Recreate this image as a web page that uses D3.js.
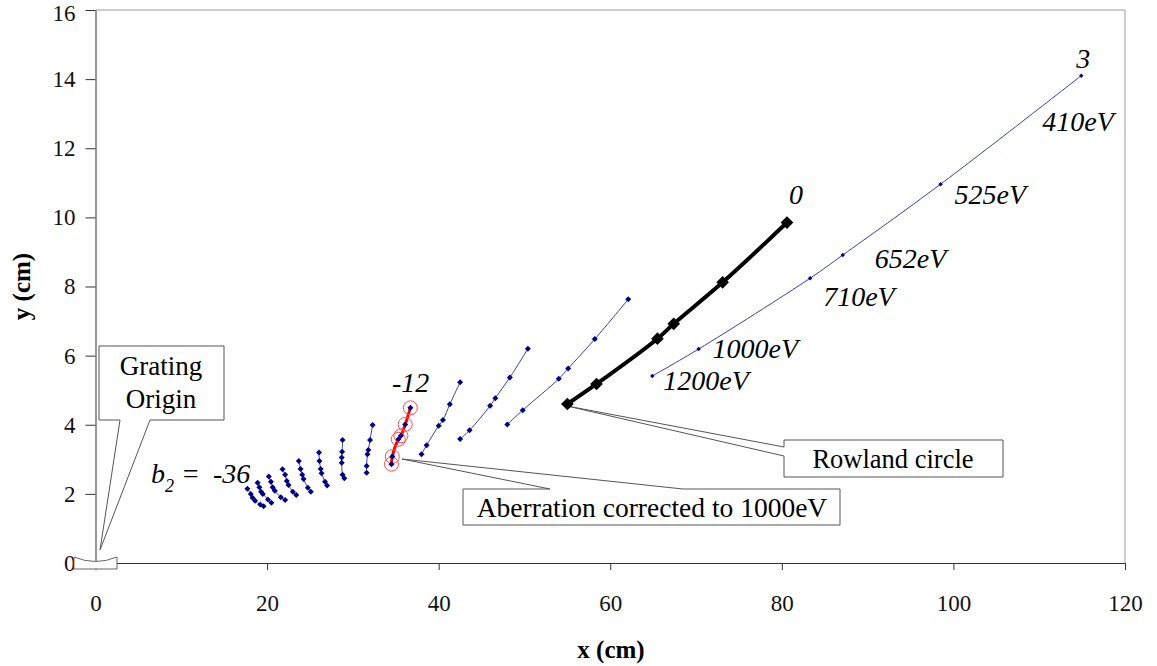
<!DOCTYPE html>
<html><head><meta charset="utf-8">
<script src="https://cdnjs.cloudflare.com/ajax/libs/d3/7.8.5/d3.min.js"></script>
<style>
body{margin:0;background:#fff;}
svg text{font-family:"Liberation Serif","Times New Roman","DejaVu Serif",serif !important;}
</style></head>
<body><svg id="c" width="1157" height="666"></svg>
<script>
// ---- data ----
const xTicks = [0, 20, 40, 60, 80, 100, 120];
const yTicks = [0, 2, 4, 6, 8, 10, 12, 14, 16];
const energies = ["410eV", "525eV", "652eV", "710eV", "1000eV", "1200eV"];
const b2Values = [3, 0, -3, -6, -9, -12, -15, -18, -21, -24, -27, -30, -33, -36];
const focusX = [
  [114.9, 98.5, 87.1, 83.3, 70.3, 64.9],
  [80.6, 73.1, 67.4, 65.5, 58.4, 55.0],
  [62.1, 58.2, 55.1, 54.0, 49.8, 48.0],
  [50.4, 48.3, 46.6, 46.0, 43.6, 42.5],
  [42.5, 41.3, 40.5, 40.0, 38.6, 38.0],
  [36.7, 36.1, 35.6, 35.3, 34.6, 34.5],
  [32.3, 32.0, 31.8, 31.7, 31.6, 31.6],
  [28.8, 28.75, 28.7, 28.7, 28.8, 29.0],
  [26.05, 26.1, 26.25, 26.35, 26.75, 27.0],
  [23.7, 23.9, 24.1, 24.25, 24.75, 25.1],
  [21.8, 22.1, 22.3, 22.5, 23.0, 23.4],
  [20.2, 20.45, 20.65, 20.9, 21.6, 22.1],
  [18.9, 19.1, 19.3, 19.5, 20.1, 20.5],
  [17.7, 18.1, 18.3, 18.6, 19.2, 19.6]
];
const focusY = [
  [14.10, 10.96, 8.91, 8.24, 6.19, 5.41],
  [9.85, 8.12, 6.92, 6.49, 5.18, 4.60],
  [7.63, 6.48, 5.63, 5.33, 4.42, 4.01],
  [6.20, 5.37, 4.77, 4.55, 3.84, 3.59],
  [5.23, 4.59, 4.14, 3.97, 3.41, 3.15],
  [4.49, 4.01, 3.68, 3.58, 3.08, 2.86],
  [3.99, 3.56, 3.27, 3.15, 2.81, 2.61],
  [3.56, 3.22, 3.05, 2.90, 2.55, 2.45],
  [3.20, 2.95, 2.72, 2.60, 2.35, 2.24],
  [2.95, 2.72, 2.55, 2.43, 2.18, 2.06],
  [2.71, 2.55, 2.37, 2.26, 2.06, 1.97],
  [2.50, 2.35, 2.19, 2.09, 1.90, 1.82],
  [2.32, 2.19, 2.06, 2.00, 1.84, 1.74],
  [2.15, 2.00, 1.89, 1.80, 1.69, 1.64]
];
const rowlandB2 = 0;
const correctedB2 = -12;

// ---- chart ----
const svg = d3.select("#c");
const x = d3.scaleLinear().domain([0, 120]).range([95.5, 1125]);
const y = d3.scaleLinear().domain([0, 16]).range([563, 10]);

// plot border (top/right)
svg.append("path").attr("d", `M${x(0)},${y(16)}H${x(120)}V${y(0)}`)
  .attr("fill", "none").attr("stroke", "#9a9a9a").attr("stroke-width", 1);

const gx = svg.append("g").attr("transform", `translate(0,${y(0)})`)
  .call(d3.axisBottom(x).tickValues(xTicks).tickSize(7).tickPadding(25).tickSizeOuter(0));
const gy = svg.append("g").attr("transform", `translate(${x(0)},0)`)
  .call(d3.axisLeft(y).tickValues(yTicks).tickSize(10).tickPadding(10).tickSizeOuter(0));
[gx, gy].forEach(g => {
  g.attr("font-family", null);
  g.selectAll("path,line").attr("stroke", "#333").attr("stroke-width", 1);
  g.selectAll("text").attr("font-size", 23).attr("fill", "#111");
});
gy.selectAll("text").filter(d => d === 16).attr("dy", "0.45em");

svg.append("text").attr("x", 611).attr("y", 658).attr("text-anchor", "middle")
  .attr("font-size", 25).attr("font-weight", "bold").text("x (cm)");
svg.append("text").attr("transform", `translate(30,${y(8)}) rotate(-90)`)
  .attr("text-anchor", "middle").attr("font-size", 25).attr("font-weight", "bold").text("y (cm)");

const series = b2Values.map((b, i) => ({
  b2: b, pts: focusX[i].map((v, j) => ({ x: v, y: focusY[i][j], e: energies[j] }))
}));
const line = d3.line().x(d => x(d.x)).y(d => y(d.y)).curve(d3.curveCatmullRom.alpha(0.5));
const diamond = d3.symbol().type(d3.symbolSquare);

// callouts (behind data)
function callout(d) {
  svg.append("path").attr("d", d).attr("fill", "#fff").attr("stroke", "#555").attr("stroke-width", 1);
}
callout(`M99,346H224V420H150L100,550L120,420H99Z`);
callout(`M784,440H1003V477H784V456L567,406L784,447Z`);
callout(`M463,489H550L402,459L683,489H840V525H463Z`);
svg.append("text").attr("x", 161).attr("y", 375).attr("text-anchor", "middle").attr("font-size", 27).text("Grating");
svg.append("text").attr("x", 161).attr("y", 408).attr("text-anchor", "middle").attr("font-size", 27).text("Origin");
svg.append("text").attr("x", 893).attr("y", 468).attr("text-anchor", "middle").attr("font-size", 26.5).text("Rowland circle");
svg.append("text").attr("x", 652).attr("y", 517).attr("text-anchor", "middle").attr("font-size", 27.5).text("Aberration corrected to 1000eV");

// blue lines
series.filter(s => s.b2 !== rowlandB2).forEach(s => {
  svg.append("path").attr("d", line(s.pts)).attr("fill", "none")
    .attr("stroke", s.b2 === correctedB2 ? "#ff0000" : "#3b3bb0")
    .attr("stroke-width", s.b2 === correctedB2 ? 3 : 1);
});
// red circles
const corr = series.find(s => s.b2 === correctedB2);
svg.selectAll(".rc").data(corr.pts).join("circle").attr("cx", d => x(d.x)).attr("cy", d => y(d.y))
  .attr("r", 7).attr("fill", "none").attr("stroke", "#ff5050").attr("stroke-width", 1);
// blue markers
series.filter(s => s.b2 !== rowlandB2).forEach(s => {
  svg.append("g").selectAll("path").data(s.pts).join("path")
    .attr("transform", d => `translate(${x(d.x)},${y(d.y)}) rotate(45)`)
    .attr("d", diamond.size(s.b2 === 3 ? 10 : 18)()).attr("fill", "#000080");
});
// Rowland (black)
const row = series.find(s => s.b2 === rowlandB2);
svg.append("path").attr("d", line(row.pts)).attr("fill", "none").attr("stroke", "#000").attr("stroke-width", 4);
svg.append("g").selectAll("path").data(row.pts).join("path")
  .attr("transform", d => `translate(${x(d.x)},${y(d.y)}) rotate(45)`)
  .attr("d", diamond.size(80)()).attr("fill", "#000");

// grating shape at origin
svg.append("path").attr("d", `M74,557Q${x(0)},566 117,557V569H74Z`)
  .attr("fill", "#fff").attr("stroke", "#666").attr("stroke-width", 1);

// energy labels along b2 = 3
const topPts = series[0].pts;
const eOff = [[-39, 55], [14, 20], [32, 13], [13, 28], [14, 9], [11, 14]];
topPts.forEach((d, j) => {
  svg.append("text").attr("x", x(d.x) + eOff[j][0]).attr("y", y(d.y) + eOff[j][1])
    .attr("font-size", 28).attr("font-style", "italic").text(d.e);
});
// b2 labels
svg.append("text").attr("x", x(topPts[0].x) - 5).attr("y", y(topPts[0].y) - 8)
  .attr("font-size", 28).attr("font-style", "italic").text(String(b2Values[0]));
svg.append("text").attr("x", x(row.pts[0].x) + 2).attr("y", y(row.pts[0].y) - 19)
  .attr("font-size", 28).attr("font-style", "italic").text(String(rowlandB2));
svg.append("text").attr("x", 392).attr("y", 392)
  .attr("font-size", 28).attr("font-style", "italic").text(String(correctedB2));
const bl = svg.append("text").attr("y", 483).attr("font-size", 28).attr("font-style", "italic");
bl.append("tspan").attr("x", 151).text("b");
bl.append("tspan").attr("dy", 9).attr("font-size", 18).text("2");
bl.append("tspan").attr("x", 181).attr("dy", -9).text("=");
bl.append("tspan").attr("x", 213).text(String(b2Values[b2Values.length - 1]));
</script></body></html>
